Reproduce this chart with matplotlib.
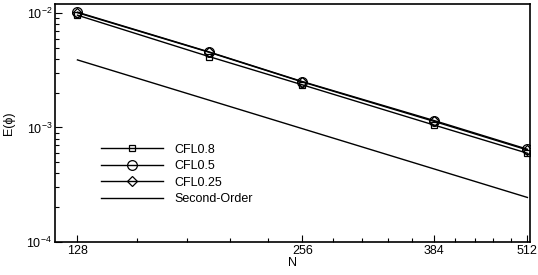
import matplotlib
matplotlib.use("Agg")
import matplotlib.pyplot as plt
from matplotlib.ticker import FixedLocator, NullFormatter, LogLocator, FuncFormatter

plt.rcParams['font.family'] = ['Liberation Sans', 'DejaVu Sans']
plt.rcParams['mathtext.fontset'] = 'custom'
plt.rcParams['mathtext.rm'] = 'Liberation Sans'
plt.rcParams['mathtext.it'] = 'Liberation Sans:italic'

N = [128, 192, 256, 384, 512]
cfl08 = [9.6e-3, 4.17e-3, 2.36e-3, 1.05e-3, 5.95e-4]
cfl05 = [1.02e-2, 4.58e-3, 2.52e-3, 1.15e-3, 6.45e-4]
cfl025 = [1.01e-2, 4.55e-3, 2.50e-3, 1.13e-3, 6.35e-4]
N_ref = [128, 512]
second_order = [3.9e-3, 2.44e-4]
xticks = [128, 256, 384, 512]
xminor = [153.6, 179.2, 204.8, 230.4, 281.6, 307.2, 332.8, 358.4,
          409.6, 435.2, 460.8, 486.4]

fig = plt.figure(figsize=(5.38, 2.75), dpi=100)
ax = fig.add_axes([0.102, 0.121, 0.883, 0.864])

ax.plot(N, cfl08, color='black', lw=1.0, marker='s', ms=5, mfc='none', mew=0.9, label='CFL0.8')
ax.plot(N, cfl05, color='black', lw=1.0, marker='o', ms=7, mfc='none', mew=0.9, label='CFL0.5')
ax.plot(N, cfl025, color='black', lw=1.0, marker='D', ms=5, mfc='none', mew=0.9, label='CFL0.25')
ax.plot(N_ref, second_order, color='black', lw=1.0, label='Second-Order')

ax.set_xscale('log')
ax.set_yscale('log')
ax.set_xlim(119.4, 516)
ax.set_ylim(1e-4, 1.2e-2)

ax.xaxis.set_major_locator(FixedLocator(xticks))
ax.xaxis.set_major_formatter(FuncFormatter(lambda v, p: f"{int(round(v))}"))
ax.xaxis.set_minor_locator(FixedLocator(xminor))
ax.xaxis.set_minor_formatter(NullFormatter())

ax.yaxis.set_major_locator(LogLocator(base=10, numticks=10))
ax.yaxis.set_minor_locator(LogLocator(base=10, subs=range(2, 10), numticks=20))
ax.yaxis.set_minor_formatter(NullFormatter())

ax.tick_params(which='both', direction='in', labelsize=9, top=False, right=False)
ax.tick_params(which='major', length=5, width=0.8, pad=2)
ax.tick_params(which='minor', length=3, width=0.8)
for s in ax.spines.values():
    s.set_linewidth(1.2)

ax.set_xlabel('N', fontsize=9, labelpad=0)
ax.set_ylabel('E(ϕ)', fontsize=9, labelpad=8)

ax.legend(loc='upper left', bbox_to_anchor=(0.097, 0.413), frameon=False, fontsize=9,
          handlelength=5.0, handletextpad=0.9, labelspacing=0.37, borderpad=0, borderaxespad=0)

fig.savefig('out.png', dpi=100)
